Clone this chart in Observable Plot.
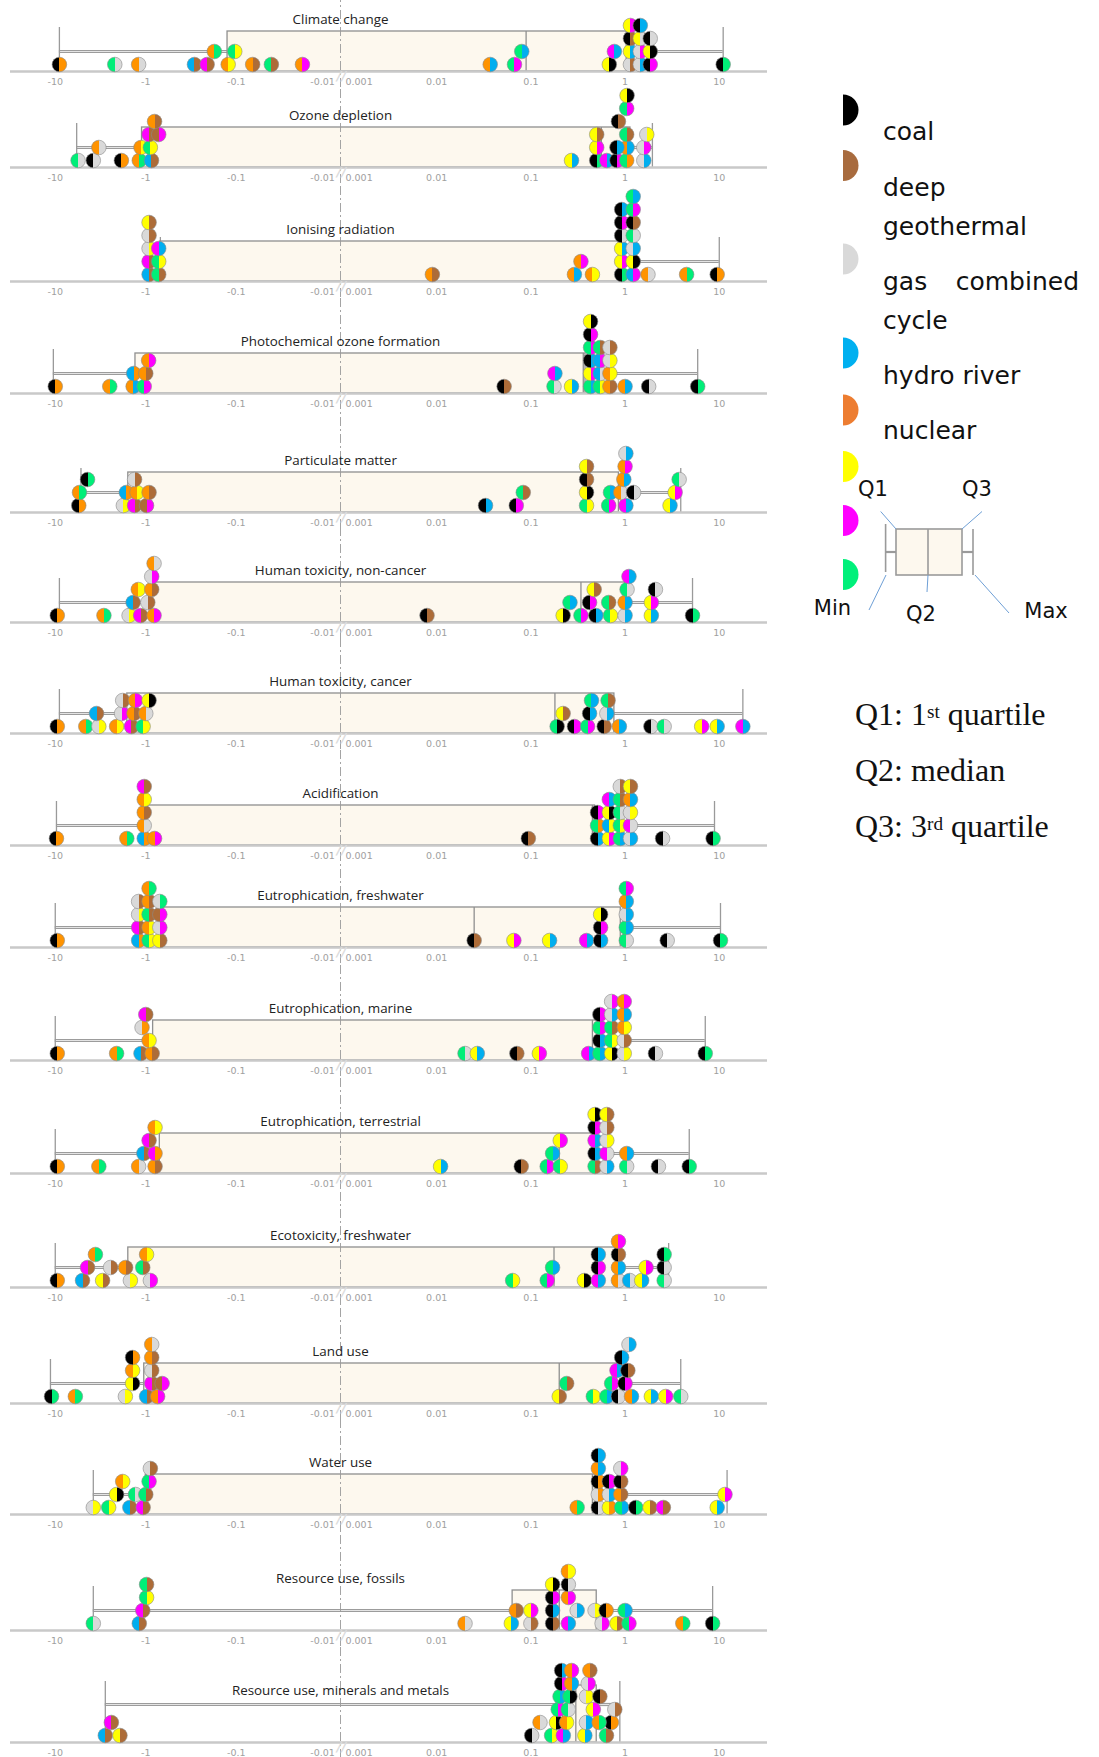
<!DOCTYPE html>
<html><head><meta charset="utf-8">
<script src="https://cdn.jsdelivr.net/npm/d3@7"></script>
<script src="https://cdn.jsdelivr.net/npm/@observablehq/plot@0.6"></script>
<style>
html,body{margin:0;padding:0;background:#fff;}
body{width:1099px;height:1757px;position:relative;overflow:hidden;}
#charts{position:absolute;left:0;top:0;width:780px;}
#charts svg{display:block;}
.lab{position:absolute;left:883px;width:196px;font-family:"DejaVu Sans",sans-serif;font-size:25px;line-height:39px;text-align:justify;color:#111;}
.qt{position:absolute;left:855px;font-family:"Liberation Serif",serif;font-size:32px;line-height:36px;color:#111;white-space:nowrap;}
.qt sup{font-size:60%;vertical-align:top;position:relative;top:-2px;}
</style></head>
<body>
<svg id="defs" width="0" height="0" style="position:absolute;left:0;top:0"><defs></defs></svg>
<div id="charts"></div>
<svg id="legend" width="299" height="900" style="position:absolute;left:800px;top:0"></svg>
<div class="lab" style="top:111.5px">coal</div>
<div class="lab" style="top:168px">deep geothermal</div>
<div class="lab" style="top:262px">gas combined cycle</div>
<div class="lab" style="top:356px">hydro river</div>
<div class="lab" style="top:411px">nuclear</div>
<div class="qt" style="top:695.5px">Q1: 1<sup>st</sup> quartile</div>
<div class="qt" style="top:751.5px">Q2: median</div>
<div class="qt" style="top:807.5px">Q3: 3<sup>rd</sup> quartile</div>
<script>
// ---------------- data ----------------
const techCodes = ["k","b","g","h","n","y","m","e"];
const dotPalette = ["#000000","#ad6c38","#d9d9d9","#00aeef","#ff9300","#ffff00","#ff00ff","#00ee78"];
const legendPalette = ["#000000","#a86b3e","#d9d9d9","#00b0f0","#ed7d31","#ffff00","#ff00ff","#00f07a"];

const panelTitles = ["Climate change","Ozone depletion","Ionising radiation","Photochemical ozone formation","Particulate matter","Human toxicity, non-cancer","Human toxicity, cancer","Acidification","Eutrophication, freshwater","Eutrophication, marine","Eutrophication, terrestrial","Ecotoxicity, freshwater","Land use","Water use","Resource use, fossils","Resource use, minerals and metals"];

const boxMin    = [-9, -5.8, -0.69, -10.5, -5.2, -9, -9, -9.7, -10, -10, -10, -10, -11.3, -3.8, -3.8, -2.8];
const boxQ1     = [-0.125, -1.1, -0.69, -1.3, -1.56, -0.86, -1.6, -0.95, -0.64, -0.83, -0.7, -1.56, -1.04, -1.0, 0.064, 0.22];
const boxMedian = [0.089, 0.56, 0.85, 0.36, 0.4, 0.34, 0.18, 0.45, 0.025, 0.45, 0.2, 0.176, 0.2, 0.45, 0.2, 0.3];
const boxQ3     = [1.04, 1.14, 0.88, 0.38, 0.86, 1.0, 0.77, 0.48, 0.9, 0.52, 0.45, 0.92, 0.82, 0.5, 0.5, 0.5];
const boxMax    = [11, 1.95, 10, 5.9, 3.9, 5.2, 17.8, 8.9, 10.3, 7.1, 4.8, 2.9, 3.9, 12.1, 8.5, 0.88];

const tickValues = [-10, -1, -0.1, -0.01, 0.001, 0.01, 0.1, 1, 10];
const tickLabels = ["-10","-1","-0.1","-0.01","0.001","0.01","0.1","1","10"];

// each dot: [left colour + right colour, value]
const climateChange = [["kn",-9],["eg",-2.2],["ng",-1.2],["hb",-0.29],["mb",-0.21],["ny",-0.123],["nb",-0.066],["eb",-0.041],["nm",-0.0186],["nh",0.037],["em",0.067],["yk",0.68],["gb",1.14],["gh",1.45],["km",1.85],["ke",11],["ne",-0.175],["ey",-0.104],["eh",0.08],["mh",0.77],["yh",1.14],["gm",1.45],["yk",1.85],["kb",1.14],["yg",1.45],["kg",1.85],["ym",1.14],["kh",1.45]];
const ozoneDepletion = [["eg",-5.6],["kg",-3.8],["kn",-1.86],["ne",-1.18],["hb",-0.865],["ng",-3.3],["ny",-1.13],["ey",-0.89],["mb",-0.92],["bm",-0.72],["nb",-0.8],["yh",0.27],["ke",0.5],["mh",0.64],["km",0.82],["en",1.04],["gh",1.58],["ym",0.5],["nh",1.05],["gm",1.58],["yb",0.5],["kh",0.82],["eb",1.04],["gy",1.7],["kb",0.85],["em",1.04],["yk",1.05]];
const ionisingRadiation = [["hb",-0.92],["eb",-0.72],["mb",-0.92],["ey",-0.72],["gy",-0.92],["mh",-0.72],["gb",-0.92],["yb",-0.92],["nb",0.009],["nh",0.29],["ny",0.45],["ke",0.92],["hm",1.22],["ng",1.75],["ne",4.5],["kn",9.5],["nm",0.34],["ym",0.92],["yk",1.22],["yh",0.92],["gh",1.22],["kg",0.92],["eg",1.22],["km",0.92],["kb",1.22],["kh",0.92],["em",1.22],["eh",1.22]];
const photochemicalOzone = [["kn",-10],["ne",-2.5],["nh",-1.38],["em",-1.04],["hn",-1.36],["nb",-1.0],["nm",-0.93],["kb",0.052],["eg",0.176],["yh",0.27],["mh",0.18],["eh",0.43],["ey",0.545],["nb",0.69],["nh",1.0],["kg",1.78],["ke",5.9],["ym",0.43],["hg",0.545],["ny",0.69],["kh",0.43],["hm",0.545],["gy",0.69],["em",0.43],["eb",0.545],["gb",0.69],["km",0.43],["yk",0.43]];
const particulateMatter = [["kn",-5.5],["gy",-1.77],["mb",-1.33],["bm",-0.98],["ne",-5.4],["ke",-4.4],["hn",-1.64],["ny",-1.25],["nb",-0.92],["gb",-1.33],["kh",0.033],["km",0.07],["ey",0.39],["em",0.67],["mh",1.02],["yh",3.0],["eb",0.083],["yk",0.39],["eh",0.7],["ng",0.9],["kg",1.23],["ym",3.4],["kb",0.39],["nh",0.97],["eg",3.75],["yb",0.39],["nm",1.0],["gh",1.02]];
const humanToxNonCancer = [["kn",-9.5],["ne",-2.9],["gy",-1.53],["mb",-1.14],["nm",-0.81],["hb",-1.38],["gb",-0.95],["ny",-1.21],["nb",-0.86],["gm",-0.86],["ng",-0.81],["kb",0.0079],["yk",0.22],["em",0.34],["kh",0.49],["ey",0.7],["gh",1.0],["yh",1.9],["ke",5.2],["eh",0.26],["km",0.42],["eb",0.67],["nh",1.0],["ym",1.9],["yb",0.47],["kg",2.1],["eg",1.05],["mh",1.1]];
const humanToxCancer = [["kn",-9.5],["ne",-4.6],["gy",-3.3],["ny",-2.1],["mb",-1.44],["ey",-1.07],["hb",-3.5],["gm",-1.85],["nb",-1.35],["ng",-1.0],["gb",-1.8],["nm",-1.3],["yk",-0.92],["ek",0.19],["km",0.29],["em",0.4],["kb",0.6],["nh",0.87],["kg",1.88],["eg",2.6],["ym",6.5],["yh",9.5],["mh",17.8],["yb",0.22],["kh",0.42],["gh",0.64],["eh",0.44],["eb",0.66]];
const acidification = [["kn",-9.7],["ne",-1.62],["hn",-1.04],["nm",-0.8],["ng",-1.04],["nb",-1.04],["ny",-1.04],["mb",-1.04],["kb",0.094],["kh",0.51],["ym",0.68],["eh",0.89],["gh",1.14],["kg",2.5],["ke",8.6],["en",0.51],["hy",0.68],["ey",0.89],["mg",1.14],["km",0.51],["yk",0.68],["eg",0.89],["gy",1.14],["mh",0.68],["eb",0.89],["nh",1.14],["gb",0.89],["yb",1.14]];
const eutroFreshwater = [["kn",-9.5],["hn",-1.2],["ey",-0.92],["yb",-0.7],["mb",-1.2],["ny",-0.92],["gm",-0.7],["gy",-1.2],["eb",-0.92],["bm",-0.7],["gb",-1.2],["nb",-0.92],["ge",-0.7],["ne",-0.92],["kb",0.025],["ym",0.066],["yh",0.158],["mh",0.39],["kh",0.55],["eg",1.03],["kg",2.8],["ke",10.3],["km",0.55],["eh",1.03],["yk",0.55],["gh",1.03],["nh",1.03],["em",1.03]];
const eutroMarine = [["kn",-9.5],["ne",-2.1],["hb",-1.13],["nb",-0.85],["ny",-0.92],["gn",-1.1],["mb",-1.0],["eg",0.02],["yh",0.027],["kb",0.071],["ym",0.123],["mh",0.41],["eh",0.54],["yk",0.72],["gy",0.98],["kg",2.1],["ke",7.1],["kh",0.54],["ey",0.72],["gb",0.98],["em",0.54],["eb",0.72],["ny",0.98],["km",0.54],["gh",0.72],["nh",0.98],["gm",0.72],["nm",0.98]];
const eutroTerrestrial = [["kn",-9.5],["ne",-3.3],["ng",-1.2],["nb",-0.79],["hb",-1.05],["mn",-0.79],["mb",-0.92],["ny",-0.79],["yh",0.011],["kb",0.079],["em",0.149],["ey",0.205],["eh",0.17],["ym",0.205],["eb",0.48],["gh",0.64],["eg",1.04],["kg",2.26],["ke",4.8],["kh",0.48],["mg",0.64],["nh",1.04],["mh",0.48],["gy",0.64],["km",0.48],["gb",0.64],["yk",0.48],["yb",0.64]];
const ecotoxFreshwater = [["kn",-9.5],["hb",-5.0],["yb",-3.0],["gy",-1.48],["gm",-0.89],["mb",-4.4],["ne",-3.6],["gb",-2.45],["nb",-1.67],["eb",-1.08],["ny",-0.98],["ey",0.064],["em",0.149],["yk",0.37],["mh",0.52],["ng",0.85],["hg",1.12],["yh",1.5],["eg",2.6],["eh",0.17],["km",0.52],["nh",0.85],["ym",1.67],["kg",2.6],["kh",0.52],["kb",0.85],["ke",2.6],["nm",0.85]];
const landUse = [["ke",-11],["ne",-6.0],["gy",-1.68],["hb",-0.98],["nm",-0.74],["yk",-1.4],["mb",-0.86],["bm",-0.66],["ny",-1.4],["gb",-0.86],["kn",-1.4],["nb",-0.86],["ng",-0.86],["yb",0.2],["ey",0.46],["eh",0.64],["kg",0.85],["yh",1.9],["ym",2.7],["eg",3.9],["eb",0.24],["em",0.72],["km",1.0],["nh",1.17],["mh",0.82],["kh",0.92],["kb",1.07],["gh",1.1]];
const waterUse = [["gy",-3.8],["ey",-2.57],["hb",-1.5],["mb",-1.07],["yk",-2.1],["ny",-1.8],["eg",-1.3],["eb",-1.0],["em",-0.92],["gb",-0.89],["ne",0.31],["kg",0.52],["yn",0.68],["eh",0.92],["ke",1.3],["yb",1.84],["mb",2.55],["yh",9.5],["gn",0.52],["gh",0.68],["nb",0.9],["ym",11.5],["kn",0.52],["km",0.68],["kb",0.9],["nh",0.52],["gm",0.9],["kh",0.52]];
const resourceFossils = [["eg",-3.8],["hb",-1.18],["mb",-1.08],["ey",-0.98],["eb",-0.98],["ng",0.02],["yh",0.062],["gb",0.1],["kb",0.17],["mh",0.25],["gm",0.57],["yb",0.82],["em",1.1],["ne",4.1],["ke",8.5],["nb",0.07],["ym",0.1],["kh",0.17],["gh",0.31],["gy",0.48],["eh",1.0],["kn",0.63],["km",0.17],["nm",0.25],["kg",0.25],["yk",0.17],["ny",0.25]];
const resourceMinerals = [["hb",-2.8],["yb",-1.93],["mb",-2.4],["kg",0.102],["ey",0.166],["mh",0.221],["yh",0.374],["eb",0.635],["ng",0.125],["yk",0.187],["ny",0.239],["gh",0.389],["ym",0.46],["kn",0.716],["em",0.195],["eg",0.249],["gy",0.389],["ne",0.53],["gb",0.778],["eh",0.204],["ek",0.26],["gm",0.406],["kb",0.54],["km",0.212],["nh",0.27],["nb",0.423],["kh",0.212],["nm",0.27]];

const panelDots = [climateChange, ozoneDepletion, ionisingRadiation, photochemicalOzone, particulateMatter, humanToxNonCancer, humanToxCancer, acidification, eutroFreshwater, eutroMarine, eutroTerrestrial, ecotoxFreshwater, landUse, waterUse, resourceFossils, resourceMinerals];

// ---------------- layout ----------------
const panelHeights = [87, 96, 114, 112, 119, 110, 111, 112, 102, 113, 113, 114, 116, 111, 116, 112];
const boxHeights = panelHeights.map((_, i) => i === 15 ? 57 : 40);
const whiskerHeights = panelHeights.map((_, i) => i === 15 ? 38 : 20);
const W = 780, ML = 10, MR = 13, MB = 16;
const X0 = 340, PXU = 94.2;            // break position and px per decade
const xDomain = [(ML - X0) / PXU, (W - MR - X0) / PXU];
const DX = 9.3, ROW = 13, BASE = 7, R = 7.3;

// split log axis: negatives on the left (-10 … -0.01), positives on the right (0.001 … 10)
function toU(v) {
  return v > 0 ? 3.021 + Math.log10(v) : -(0.145 + 0.961 * (2 + Math.log10(-v)));
}
const xs = d3.scaleLinear().domain(xDomain).range([ML, W - MR]);

function stack(rows) {
  const placed = [];
  return rows.map(([pair, v]) => {
    const u = toU(v), px = xs(u);
    const near = placed.filter(p => Math.abs(p.px - px) < DX);
    let row = 0;
    while (near.some(p => p.row === row)) row++;
    const d = {pair, value: v, u, px, row, y: BASE + row * ROW};
    placed.push(d);
    return d;
  });
}

// gradients for the two-coloured dots
const colorOf = c => dotPalette[techCodes.indexOf(c)];
const defs = d3.select("#defs defs");
const pairs = new Set(panelDots.flat().map(d => d[0]));
for (const p of pairs) {
  const g = defs.append("linearGradient").attr("id", "g-" + p)
    .attr("x1", 0).attr("x2", 1).attr("y1", 0).attr("y2", 0);
  g.append("stop").attr("offset", "50%").attr("stop-color", colorOf(p[0]));
  g.append("stop").attr("offset", "50%").attr("stop-color", colorOf(p[1]));
}

const mainTicks = tickValues.filter(v => v !== -0.01 && v !== 0.001);
const labelOf = v => tickLabels[tickValues.indexOf(v)];
const font = "'Open Sans', sans-serif";
const tickFont = "'DejaVu Sans', sans-serif";

const container = document.getElementById("charts");
panelTitles.forEach((title, i) => {
  const H = panelHeights[i], BH = boxHeights[i], WY = whiskerHeights[i];
  const dots = stack(panelDots[i]);
  const stats = {min: boxMin[i], q1: boxQ1[i], med: boxMedian[i], q3: boxQ3[i], max: boxMax[i]};
  const whisk = [{a: stats.min, b: stats.q1}, {a: stats.q3, b: stats.max}];
  const chart = Plot.plot({
    width: W, height: H,
    marginLeft: ML, marginRight: MR, marginTop: 0, marginBottom: MB,
    x: {domain: xDomain, axis: null},
    y: {domain: [0, H - MB], axis: null},
    color: {type: "identity"},
    style: {background: "transparent", overflow: "visible"},
    marks: [
      Plot.ruleY(whisk, {x1: d => toU(d.a), x2: d => toU(d.b), y: WY, stroke: "#9c9c9c", strokeWidth: 3.2}),
      Plot.ruleY(whisk, {x1: d => toU(d.a), x2: d => toU(d.b), y: WY, stroke: "#e4e4e4", strokeWidth: 1.1}),
      Plot.ruleX([stats.min, stats.max], {x: d => toU(d), y1: 0, y2: BH + 4, stroke: "#9a9a9a", strokeWidth: 1.3}),
      Plot.rect([stats], {x1: d => toU(d.q1), x2: d => toU(d.q3), y1: 0, y2: BH, fill: "#fdf8ee", stroke: "#8f8f8f", strokeWidth: 1.3}),
      Plot.ruleX([stats.med], {x: d => toU(d), y1: 0, y2: BH, stroke: "#8f8f8f", strokeWidth: 1.3}),
      Plot.ruleX([0], {y1: -MB, y2: H - MB, stroke: "#9a9a9a", strokeWidth: 0.9, strokeDasharray: "9,3,2,3"}),
      Plot.ruleY([0], {stroke: "#c9c9c9", strokeWidth: 2.4}),
      Plot.text(["//"], {x: 0.01, y: -4, text: d => d, fontSize: 13, fontStyle: "italic", fontWeight: "bold", fill: "#dcdcdc", fontFamily: tickFont}),
      Plot.text(mainTicks, {x: d => toU(d), y: -10, text: labelOf, fontSize: 9.5, fill: "#a0a0a0", fontFamily: tickFont, lineAnchor: "middle"}),
      Plot.text([-0.01], {x: d => toU(d), y: -10, text: labelOf, fontSize: 9.5, fill: "#a0a0a0", fontFamily: tickFont, lineAnchor: "middle", textAnchor: "end", dx: 8}),
      Plot.text([0.001], {x: d => toU(d), y: -10, text: labelOf, fontSize: 9.5, fill: "#a0a0a0", fontFamily: tickFont, lineAnchor: "middle", textAnchor: "start", dx: 3}),
      Plot.text([title], {x: 0, y: 52, text: d => d, fontSize: 13.4, fill: "#222", fontFamily: font, lineAnchor: "middle"}),
      Plot.dot(dots, {x: "u", y: "y", r: R, fill: d => "url(#g-" + d.pair + ")", stroke: "#8a8a8a", strokeWidth: 0.6})
    ]
  });
  container.appendChild(chart);
});

// ---------------- legend ----------------
const lg = d3.select("#legend");
const legendCY = [110, 165.5, 259, 353, 410, 466.5, 520.5, 574.5];
techCodes.forEach((c, i) => {
  const cy = legendCY[i];
  lg.append("path").attr("d", `M43,${cy - 15.5}A15.5,15.5 0 0 1 43,${cy + 15.5}Z`).attr("fill", legendPalette[i]);
});
// box diagram
lg.append("line").attr("x1", 85.6).attr("x2", 96).attr("y1", 552).attr("y2", 552).attr("stroke", "#9a9a9a").attr("stroke-width", 2.2);
lg.append("line").attr("x1", 162).attr("x2", 173).attr("y1", 552).attr("y2", 552).attr("stroke", "#9a9a9a").attr("stroke-width", 2.2);
lg.append("line").attr("x1", 85.6).attr("x2", 85.6).attr("y1", 524).attr("y2", 572).attr("stroke", "#9a9a9a").attr("stroke-width", 1.6);
lg.append("line").attr("x1", 173).attr("x2", 173).attr("y1", 529).attr("y2", 575).attr("stroke", "#9a9a9a").attr("stroke-width", 1.6);
lg.append("rect").attr("x", 96).attr("y", 529).attr("width", 66).attr("height", 46).attr("fill", "#fdf8ee").attr("stroke", "#9a9a9a").attr("stroke-width", 1.6);
lg.append("line").attr("x1", 128).attr("x2", 128).attr("y1", 529).attr("y2", 575).attr("stroke", "#9a9a9a").attr("stroke-width", 1.6);
const pointers = [[80.7,511.5,96,529],[182,511.5,162,529],[86,575,69,610],[175,575,209,613],[128,575,127,592]];
pointers.forEach(([a,b,c,d]) => lg.append("line").attr("x1", a).attr("y1", b).attr("x2", c).attr("y2", d).attr("stroke", "#6e9fd6").attr("stroke-width", 1));
const boxLabels = [["Q1",73,489],["Q3",177,489],["Min",32.5,608],["Q2",121,614],["Max",246,611]];
boxLabels.forEach(([t,x,y]) => lg.append("text").attr("x", x).attr("y", y).attr("text-anchor", "middle").attr("dominant-baseline", "central")
  .attr("font-family", "DejaVu Sans, sans-serif").attr("font-size", 21).attr("fill", "#111").text(t));
</script>
</body></html>
